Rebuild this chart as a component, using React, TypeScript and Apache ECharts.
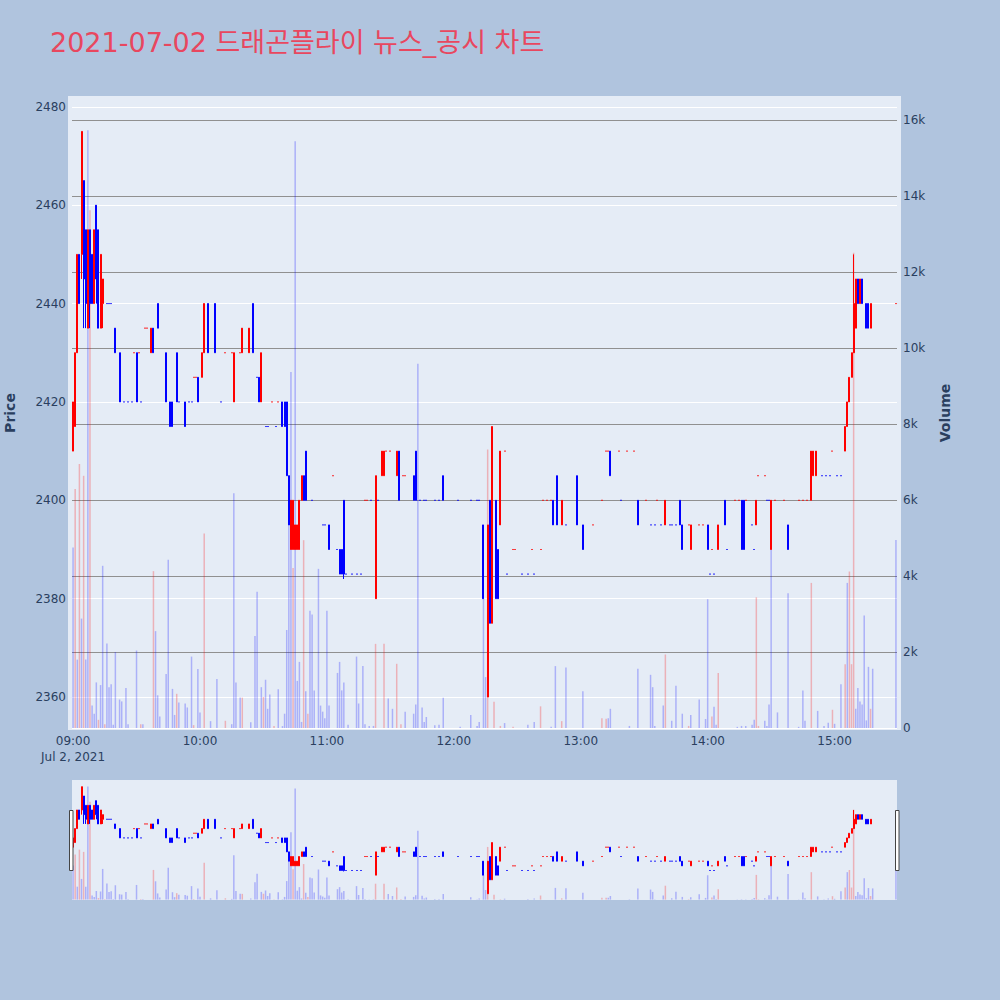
import React, { useEffect, useRef } from "react";
import * as echarts from "echarts";

// ---- DATA ----
// candles: [minute from 09:00, open, high, low, close, dir(1 = red/up, -1 = blue/down)]
const candlesH09 = [
  [0, 2410, 2420, 2410, 2420, 1], [1, 2415, 2430, 2415, 2430, 1], [2, 2430, 2450, 2430, 2450, 1],
  [3, 2450, 2450, 2440, 2440, -1], [4, 2450, 2475, 2445, 2475, 1], [5, 2465, 2465, 2435, 2445, -1],
  [6, 2455, 2455, 2435, 2440, -1], [7, 2435, 2455, 2435, 2455, 1], [8, 2455, 2455, 2435, 2440, -1],
  [9, 2450, 2450, 2440, 2440, -1], [10, 2440, 2455, 2440, 2455, 1], [11, 2460, 2460, 2440, 2445, -1],
  [12, 2455, 2455, 2435, 2435, -1], [13, 2435, 2450, 2435, 2450, 1], [14, 2440, 2445, 2435, 2445, 1],
  [16, 2440, 2440, 2440, 2440, -1], [17, 2440, 2440, 2440, 2440, -1], [18, 2440, 2440, 2440, 2440, -1],
  [20, 2435, 2435, 2430, 2430, -1], [22, 2430, 2430, 2420, 2420, -1], [24, 2420, 2420, 2420, 2420, -1],
  [26, 2420, 2420, 2420, 2420, -1], [28, 2420, 2420, 2420, 2420, -1], [29, 2430, 2430, 2430, 2430, 1],
  [30, 2430, 2430, 2420, 2420, -1], [31, 2430, 2430, 2430, 2430, 1], [32, 2420, 2420, 2420, 2420, -1],
  [34, 2435, 2435, 2435, 2435, 1], [35, 2435, 2435, 2435, 2435, 1], [37, 2430, 2435, 2430, 2435, 1],
  [38, 2435, 2435, 2430, 2430, -1], [40, 2440, 2440, 2435, 2435, -1], [44, 2430, 2430, 2420, 2420, -1],
  [46, 2420, 2420, 2415, 2415, -1], [47, 2420, 2420, 2415, 2415, -1], [49, 2430, 2430, 2420, 2420, -1],
  [50, 2420, 2420, 2420, 2420, -1], [53, 2420, 2420, 2415, 2415, -1], [55, 2420, 2420, 2420, 2420, -1],
  [56, 2420, 2420, 2420, 2420, -1], [57, 2425, 2425, 2425, 2425, 1], [58, 2425, 2425, 2425, 2425, 1],
  [59, 2425, 2425, 2420, 2420, -1],
];
const candlesH10 = [
  [61, 2425, 2430, 2425, 2430, 1], [62, 2430, 2440, 2430, 2440, 1], [64, 2440, 2440, 2430, 2430, -1],
  [67, 2440, 2440, 2430, 2430, -1], [70, 2420, 2420, 2420, 2420, -1], [72, 2430, 2430, 2430, 2430, 1],
  [75, 2430, 2430, 2430, 2430, 1], [76, 2420, 2430, 2420, 2430, 1], [79, 2430, 2430, 2430, 2430, 1],
  [80, 2430, 2435, 2430, 2435, 1], [83, 2430, 2435, 2430, 2435, 1], [85, 2440, 2440, 2430, 2430, -1],
  [87, 2425, 2425, 2425, 2425, -1], [88, 2425, 2425, 2420, 2420, -1], [89, 2420, 2430, 2420, 2430, 1],
  [91, 2415, 2415, 2415, 2415, -1], [92, 2415, 2415, 2415, 2415, -1], [94, 2420, 2420, 2420, 2420, 1],
  [96, 2415, 2415, 2415, 2415, -1], [97, 2420, 2420, 2420, 2420, 1], [99, 2420, 2420, 2415, 2415, -1],
  [100, 2420, 2420, 2415, 2415, -1], [101, 2420, 2420, 2405, 2405, -1], [102, 2405, 2405, 2395, 2395, -1],
  [103, 2390, 2400, 2390, 2400, 1], [104, 2390, 2400, 2390, 2400, 1], [105, 2390, 2395, 2390, 2395, 1],
  [106, 2390, 2395, 2390, 2395, 1], [107, 2390, 2400, 2390, 2400, 1], [108, 2400, 2405, 2400, 2405, 1],
  [109, 2405, 2405, 2400, 2400, -1], [110, 2410, 2410, 2400, 2400, -1], [113, 2400, 2400, 2400, 2400, -1],
  [118, 2395, 2395, 2395, 2395, -1], [119, 2395, 2395, 2395, 2395, -1],
];
const candlesH11 = [
  [121, 2395, 2395, 2390, 2390, -1], [123, 2405, 2405, 2405, 2405, 1], [125, 2390, 2390, 2390, 2390, -1],
  [126, 2390, 2390, 2385, 2385, -1], [127, 2390, 2390, 2385, 2385, -1], [128, 2400, 2400, 2384, 2385, -1],
  [129, 2385, 2385, 2385, 2385, -1], [132, 2385, 2385, 2385, 2385, -1], [134, 2385, 2385, 2385, 2385, -1],
  [136, 2385, 2385, 2385, 2385, -1], [138, 2400, 2400, 2400, 2400, 1], [139, 2400, 2400, 2400, 2400, 1],
  [141, 2400, 2400, 2400, 2400, -1], [143, 2380, 2405, 2380, 2405, 1], [144, 2400, 2400, 2400, 2400, -1],
  [146, 2405, 2410, 2405, 2410, 1], [147, 2405, 2410, 2405, 2410, 1], [148, 2410, 2410, 2410, 2410, 1],
  [150, 2410, 2410, 2410, 2410, 1], [153, 2405, 2410, 2405, 2410, 1], [154, 2410, 2410, 2400, 2400, -1],
  [156, 2405, 2405, 2405, 2405, 1], [157, 2405, 2405, 2405, 2405, 1], [161, 2405, 2405, 2400, 2400, -1],
  [162, 2410, 2410, 2400, 2400, -1], [164, 2400, 2400, 2400, 2400, -1], [166, 2400, 2400, 2400, 2400, -1],
  [167, 2400, 2400, 2400, 2400, -1], [171, 2400, 2400, 2400, 2400, -1], [173, 2400, 2400, 2400, 2400, -1],
  [175, 2405, 2405, 2400, 2400, -1],
];
const candlesH12 = [
  [182, 2400, 2400, 2400, 2400, -1], [188, 2400, 2400, 2400, 2400, -1], [191, 2400, 2400, 2400, 2400, -1],
  [192, 2400, 2400, 2400, 2400, -1], [194, 2395, 2395, 2380, 2380, -1], [196, 2360, 2395, 2360, 2395, 1],
  [197, 2400, 2400, 2375, 2375, -1], [198, 2375, 2415, 2375, 2415, 1], [200, 2400, 2400, 2380, 2380, -1],
  [201, 2390, 2390, 2380, 2380, -1], [202, 2395, 2410, 2395, 2410, 1], [204, 2410, 2410, 2410, 2410, 1],
  [205, 2385, 2385, 2385, 2385, -1], [208, 2390, 2390, 2390, 2390, 1], [209, 2390, 2390, 2390, 2390, 1],
  [212, 2385, 2385, 2385, 2385, -1], [215, 2385, 2385, 2385, 2385, -1], [217, 2390, 2390, 2390, 2390, 1],
  [218, 2385, 2385, 2385, 2385, -1], [221, 2390, 2390, 2390, 2390, 1], [222, 2400, 2400, 2400, 2400, 1],
  [224, 2400, 2400, 2400, 2400, 1], [226, 2400, 2400, 2400, 2400, 1], [227, 2400, 2400, 2395, 2395, -1],
  [229, 2405, 2405, 2395, 2395, -1], [231, 2395, 2400, 2395, 2400, 1], [233, 2395, 2395, 2395, 2395, -1],
  [238, 2405, 2405, 2395, 2395, -1],
];
const candlesH13 = [
  [241, 2395, 2395, 2390, 2390, -1], [246, 2395, 2395, 2395, 2395, 1], [250, 2400, 2400, 2400, 2400, 1],
  [252, 2410, 2410, 2410, 2410, 1], [253, 2410, 2410, 2410, 2410, 1], [254, 2410, 2410, 2405, 2405, -1],
  [258, 2410, 2410, 2410, 2410, 1], [259, 2400, 2400, 2400, 2400, -1], [262, 2410, 2410, 2410, 2410, 1],
  [265, 2410, 2410, 2410, 2410, 1], [267, 2400, 2400, 2395, 2395, -1], [271, 2400, 2400, 2400, 2400, 1],
  [273, 2395, 2395, 2395, 2395, -1], [275, 2395, 2395, 2395, 2395, -1], [276, 2400, 2400, 2400, 2400, 1],
  [278, 2395, 2395, 2395, 2395, -1], [280, 2395, 2400, 2395, 2400, 1], [282, 2395, 2395, 2395, 2395, -1],
  [283, 2395, 2395, 2395, 2395, -1], [285, 2395, 2395, 2395, 2395, -1], [287, 2400, 2400, 2395, 2395, -1],
  [288, 2395, 2395, 2390, 2390, -1], [291, 2395, 2395, 2395, 2395, 1], [292, 2390, 2395, 2390, 2395, 1],
  [296, 2395, 2395, 2395, 2395, 1], [298, 2395, 2395, 2395, 2395, 1],
];
const candlesH14 = [
  [300, 2395, 2395, 2390, 2390, -1], [301, 2385, 2385, 2385, 2385, -1], [302, 2390, 2390, 2390, 2390, 1],
  [303, 2385, 2385, 2385, 2385, -1], [305, 2390, 2395, 2390, 2395, 1], [308, 2400, 2400, 2395, 2395, -1],
  [309, 2390, 2390, 2390, 2390, -1], [313, 2400, 2400, 2400, 2400, 1], [315, 2400, 2400, 2400, 2400, 1],
  [316, 2400, 2400, 2390, 2390, -1], [317, 2400, 2400, 2390, 2390, -1], [318, 2400, 2400, 2400, 2400, 1],
  [321, 2395, 2395, 2395, 2395, -1], [322, 2390, 2390, 2390, 2390, -1], [323, 2395, 2400, 2395, 2400, 1],
  [324, 2405, 2405, 2405, 2405, 1], [327, 2405, 2405, 2405, 2405, 1], [328, 2400, 2400, 2400, 2400, -1],
  [329, 2400, 2400, 2400, 2400, -1], [330, 2390, 2400, 2390, 2400, 1], [332, 2400, 2400, 2400, 2400, 1],
  [336, 2400, 2400, 2400, 2400, 1], [338, 2395, 2395, 2390, 2390, -1], [343, 2400, 2400, 2400, 2400, 1],
  [345, 2400, 2400, 2400, 2400, 1], [347, 2400, 2400, 2400, 2400, 1], [349, 2400, 2410, 2400, 2410, 1],
  [350, 2405, 2410, 2405, 2410, 1], [351, 2405, 2410, 2405, 2410, 1], [354, 2405, 2405, 2405, 2405, -1],
  [356, 2405, 2405, 2405, 2405, -1], [358, 2405, 2405, 2405, 2405, -1], [359, 2410, 2410, 2410, 2410, 1],
];
const candlesH15 = [
  [361, 2405, 2405, 2405, 2405, -1], [363, 2405, 2405, 2405, 2405, -1], [365, 2410, 2415, 2410, 2415, 1],
  [366, 2415, 2420, 2415, 2420, 1], [367, 2420, 2425, 2420, 2425, 1], [368, 2425, 2430, 2425, 2430, 1],
  [369, 2430, 2450, 2430, 2440, 1], [370, 2435, 2445, 2435, 2445, 1], [371, 2445, 2445, 2440, 2440, -1],
  [372, 2440, 2445, 2440, 2445, 1], [373, 2445, 2445, 2440, 2440, -1], [375, 2440, 2440, 2435, 2435, -1],
  [376, 2440, 2440, 2435, 2435, -1], [377, 2435, 2440, 2435, 2440, 1], [389, 2440, 2440, 2440, 2440, 1],
];

// volumes: [minute from 09:00, volume, dir]
const volumeH09 = [
  [0, 4750, -1], [1, 6290, 1], [2, 1800, -1], [3, 6950, 1], [4, 2880, -1], [5, 6640, 1], [6, 1800, -1],
  [7, 15740, -1], [8, 13630, 1], [9, 590, -1], [10, 376, -1], [11, 1200, -1], [12, 215, 1], [13, 1130, -1],
  [14, 4270, -1], [15, 100, 1], [16, 2225, -1], [17, 1075, -1], [18, 1150, -1], [19, 86, -1], [20, 2000, -1],
  [22, 750, -1], [23, 700, -1], [25, 1050, -1], [26, 100, -1], [30, 2040, -1], [32, 100, 1], [33, 100, -1],
  [38, 4130, 1], [39, 2550, -1], [40, 860, -1], [41, 300, -1], [44, 1420, -1], [45, 4430, -1], [47, 1030, -1],
  [48, 344, -1], [49, 900, 1], [50, 670, -1], [53, 645, -1], [54, 540, -1], [56, 1880, -1], [57, 75, 1],
  [59, 1550, -1],
];
const volumeH10 = [
  [60, 410, -1], [62, 5120, 1], [65, 180, -1], [68, 1290, -1], [72, 190, 1], [75, 100, -1], [76, 6180, -1],
  [77, 1200, -1], [79, 800, -1], [80, 800, 1], [84, 150, -1], [86, 2420, -1], [87, 3590, -1], [89, 1075, -1],
  [90, 817, 1], [91, 1270, -1], [92, 505, -1], [93, 880, -1], [95, 54, 1], [97, 1020, -1], [99, 50, -1],
  [100, 376, -1], [101, 2580, -1], [102, 5900, -1], [103, 9370, -1], [104, 4210, 1], [105, 15450, -1],
  [106, 1240, -1], [107, 1740, -1], [108, 160, -1], [109, 4945, 1], [110, 970, -1], [111, 376, 1],
  [112, 3085, -1], [113, 2990, -1], [114, 990, -1], [116, 4190, -1], [117, 590, -1], [118, 430, -1],
  [119, 258, -1],
];
const volumeH11 = [
  [120, 3085, -1], [121, 590, -1], [125, 1450, -1], [126, 1740, -1], [127, 990, -1], [128, 1200, -1],
  [130, 86, -1], [134, 1880, -1], [135, 645, -1], [137, 1630, -1], [138, 100, -1], [140, 54, -1],
  [142, 54, -1], [143, 2215, 1], [147, 2215, 1], [149, 775, -1], [151, 505, -1], [153, 1690, 1],
  [155, 100, 1], [157, 430, -1], [161, 376, -1], [162, 620, -1], [163, 9590, -1], [165, 540, -1],
  [166, 160, -1], [167, 290, -1], [171, 75, -1], [173, 86, -1], [175, 795, -1],
];
const volumeH12 = [
  [183, 30, -1], [188, 344, -1], [191, 54, -1], [192, 160, -1], [194, 3420, -1], [195, 1340, -1],
  [196, 7330, 1], [199, 690, 1], [202, 54, 1], [204, 130, -1], [208, 30, 1], [215, 86, -1], [218, 160, -1],
  [221, 570, 1], [226, 30, -1], [228, 1630, -1], [231, 180, 1], [233, 1590, -1],
];
const volumeH13 = [
  [241, 970, -1], [250, 258, 1], [252, 245, 1], [253, 258, -1], [254, 505, -1], [263, 54, -1],
  [267, 1560, -1], [273, 1400, -1], [274, 1075, -1], [275, 54, -1], [279, 590, -1], [280, 1935, 1],
  [283, 190, -1], [285, 1110, -1], [288, 376, -1], [291, 54, 1], [292, 344, -1], [296, 750, -1], [299, 236, -1],
];
const volumeH14 = [
  [300, 3390, -1], [302, 300, 1], [303, 560, -1], [304, 86, -1], [305, 1450, 1], [314, 30, -1], [316, 54, -1],
  [318, 54, -1], [321, 86, -1], [322, 215, -1], [323, 3440, 1], [324, 54, 1], [327, 190, -1], [328, 54, -1],
  [329, 620, -1], [330, 4920, -1], [333, 410, -1], [338, 3550, -1], [343, 30, -1], [345, 990, -1],
  [346, 190, -1], [349, 3820, 1], [352, 450, -1], [355, 54, -1], [357, 140, -1], [359, 480, 1],
];
const volumeH15 = [
  [360, 110, -1], [363, 1150, -1], [365, 1680, 1], [366, 3820, -1], [367, 4120, 1], [368, 1680, 1],
  [369, 12510, 1], [370, 505, -1], [371, 1050, -1], [372, 700, -1], [373, 620, -1], [374, 2960, -1],
  [375, 200, -1], [376, 1610, -1], [377, 505, 1], [378, 1560, -1], [389, 4950, -1],
];

const priceTicks = [2360, 2380, 2400, 2420, 2440, 2460, 2480];
const volumeTicks = [0, 2000, 4000, 6000, 8000, 10000, 12000, 14000, 16000];
const timeTicks = ["09:00", "10:00", "11:00", "12:00", "13:00", "14:00", "15:00"];
const dateLabel = "Jul 2, 2021";
const titleText = "2021-07-02 드래곤플라이 뉴스_공시 차트";

const candles = [
  ...candlesH09, ...candlesH10, ...candlesH11, ...candlesH12, ...candlesH13, ...candlesH14, ...candlesH15,
];
const volumes = [
  ...volumeH09, ...volumeH10, ...volumeH11, ...volumeH12, ...volumeH13, ...volumeH14, ...volumeH15,
];

const UP = "#ff0000";
const DOWN = "#0000ff";
const UP_VOL = "rgba(255,0,0,0.25)";
const DOWN_VOL = "rgba(0,0,255,0.25)";
const TEXT = "#2a3f5f";
const FONT = '"DejaVu Sans", "Noto Sans CJK KR", sans-serif';

const PRICE_MIN = 2353.3;
const PRICE_MAX = 2482.2;
const VOL_MIN = -53;
const VOL_MAX = 16640;
const X_MIN = -0.5;
const X_MAX = 389.5;

function candleItems() {
  return candles.map(([m, o, h, l, c, d]) => {
    const col = d > 0 ? UP : DOWN;
    return {
      value: [m, o, c, l, h],
      itemStyle: { color: col, color0: col, borderColor: col, borderColor0: col, borderColorDoji: col },
    };
  });
}
function volumeItems() {
  return volumes.map(([m, v, d]) => ({
    value: [m, v],
    itemStyle: { color: d > 0 ? UP_VOL : DOWN_VOL },
  }));
}

function timeLabel(v: number) {
  if (v < 0 || v > 389 || v % 60 !== 0) return "";
  const idx = v / 60;
  const t = timeTicks[idx] || "";
  return idx === 0 ? t + "\n" + dateLabel : t;
}

function candleSeries(xi: number, yi: number, data: any[]) {
  return {
    type: "candlestick", xAxisIndex: xi, yAxisIndex: yi, barWidth: 1.5,
    dimensions: ["time", "open", "close", "lowest", "highest"],
    encode: { x: "time", y: ["open", "close", "lowest", "highest"] },
    itemStyle: {
      borderWidth: 1, color: UP, color0: DOWN, borderColor: UP, borderColor0: DOWN,
    },
    data,
  };
}

export default function App() {
  const ref = useRef<HTMLDivElement>(null);
  useEffect(() => {
    if (!ref.current) return;
    const chart = echarts.init(ref.current, null, { renderer: "svg" });
    const cData = candleItems();
    const vData = volumeItems();
    const option: any = {
      animation: false,
      backgroundColor: "#b0c4de",
      title: {
        text: titleText,
        left: 45,
        top: 24,
        textStyle: { color: "#e8475f", fontSize: 27, fontWeight: "normal", fontFamily: FONT },
      },
      graphic: [
        { type: "rect", z: -100, silent: true, shape: { x: 68, y: 96, width: 833, height: 634 }, style: { fill: "#e5ecf6" } },
        { type: "rect", z: -100, silent: true, shape: { x: 72, y: 780, width: 825, height: 120 }, style: { fill: "#e5ecf6" } },
        { type: "rect", z: 100, silent: true, shape: { x: 69.5, y: 810.5, width: 3.5, height: 60 }, style: { fill: "#ffffff", stroke: "#444444", lineWidth: 1 } },
        { type: "rect", z: 100, silent: true, shape: { x: 895.5, y: 810.5, width: 3.5, height: 60 }, style: { fill: "#ffffff", stroke: "#444444", lineWidth: 1 } },
      ],
      grid: [
        { left: 72, right: 103, top: 96, bottom: 270, containLabel: false, outerBoundsMode: "none" },
        { left: 72, right: 103, top: 780, bottom: 100, containLabel: false, outerBoundsMode: "none" },
      ],
      xAxis: [
        {
          type: "value", gridIndex: 0, min: X_MIN, max: X_MAX, splitNumber: 6, minInterval: 60, maxInterval: 60,
          axisLine: { show: false }, axisTick: { show: false }, splitLine: { show: false },
          axisLabel: {
            color: TEXT, fontSize: 12, fontFamily: FONT, margin: 3, lineHeight: 16,
            showMinLabel: false, showMaxLabel: false, formatter: timeLabel,
          },
        },
        { type: "value", gridIndex: 1, min: X_MIN, max: X_MAX, show: false },
      ],
      yAxis: [
        {
          type: "value", gridIndex: 0, position: "left", min: PRICE_MIN, max: PRICE_MAX,
          splitNumber: 6, minInterval: 20, maxInterval: 20,
          axisLine: { show: false }, axisTick: { show: false },
          splitLine: { show: true, showMinLine: false, showMaxLine: false, lineStyle: { color: "#ffffff", width: 1 } },
          axisLabel: {
            color: TEXT, fontSize: 12, fontFamily: FONT, margin: 6, showMinLabel: false, showMaxLabel: false,
            formatter: (v: number) => (priceTicks.includes(v) ? String(v) : ""),
          },
          name: "Price", nameLocation: "middle", nameGap: 55, nameRotate: 90, nameMoveOverlap: false,
          nameTextStyle: { color: TEXT, fontSize: 14, fontWeight: "bold", fontFamily: FONT },
        },
        {
          type: "value", gridIndex: 0, position: "right", min: VOL_MIN, max: VOL_MAX,
          splitNumber: 8, minInterval: 2000, maxInterval: 2000,
          axisLine: { show: false }, axisTick: { show: false },
          splitLine: { show: true, showMinLine: false, showMaxLine: false, lineStyle: { color: "#909090", width: 1 } },
          axisLabel: {
            color: TEXT, fontSize: 12, fontFamily: FONT, margin: 6, showMinLabel: false, showMaxLabel: false,
            formatter: (v: number) => (volumeTicks.includes(v) ? (v === 0 ? "0" : v / 1000 + "k") : ""),
          },
          name: "Volume", nameLocation: "middle", nameGap: 41, nameRotate: 90, nameMoveOverlap: false,
          nameTextStyle: { color: TEXT, fontSize: 14, fontWeight: "bold", fontFamily: FONT },
        },
        { type: "value", gridIndex: 1, min: PRICE_MIN, max: PRICE_MAX, show: false },
        { type: "value", gridIndex: 1, min: VOL_MIN, max: VOL_MAX, show: false },
      ],
      series: [
        {
          type: "bar", name: "Volume", xAxisIndex: 0, yAxisIndex: 1, barWidth: 1.5, data: vData,
          markLine: {
            silent: true, symbol: "none", label: { show: false },
            lineStyle: { color: "#ffffff", width: 1, type: "solid" }, data: [{ yAxis: 0 }],
          },
        },
        candleSeries(0, 0, cData),
        { type: "bar", xAxisIndex: 1, yAxisIndex: 3, barWidth: 1.5, data: vData },
        candleSeries(1, 2, cData),
      ],
    };
    chart.setOption(option);
    return () => chart.dispose();
  }, []);
  return (
    <div
      ref={ref}
      style={{ position: "fixed", left: 0, top: 0, width: 1000, height: 1000 }}
    />
  );
}
